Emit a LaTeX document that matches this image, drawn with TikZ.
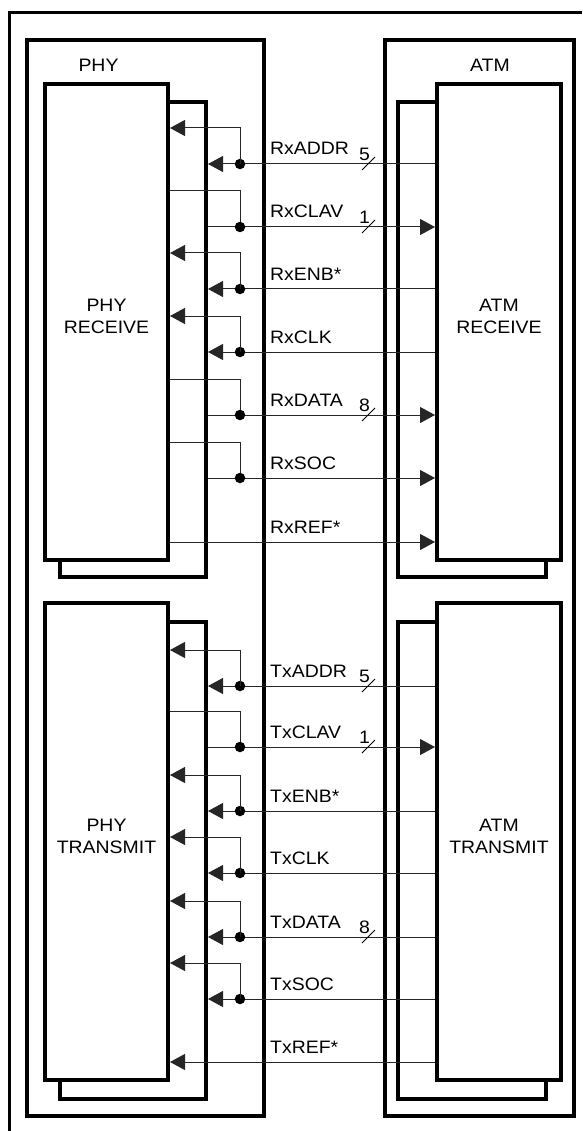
\documentclass[tikz,border=0pt]{standalone}
\usepackage{fontspec}
\setmainfont{Liberation Sans}[FakeStretch=1.08]
\usetikzlibrary{arrows.meta}
\begin{document}
\begin{tikzpicture}[x=1pt,y=-1pt,
  bx/.style={draw,line width=4pt,fill=white,inner sep=0pt,rectangle},
  sig/.style={line width=1pt,black!85},
  arr/.style={-{Triangle[length=15pt,width=16pt]}},
  lbl/.style={anchor=base west,inner sep=0pt,font=\fontsize{18}{21}\selectfont},
  ttl/.style={inner sep=0pt,font=\fontsize{18}{22}\selectfont,align=center},
  dot/.style={circle,fill=black,inner sep=0pt,minimum size=10.5pt}]
\useasboundingbox (0,0) rectangle (582,1131);
% outer frame
\draw[line width=3pt] (9,1131) -- (9,13) -- (582,13);
% PHY / ATM outer boxes
\node[bx,minimum width=237pt,minimum height=1076pt] (phy) at (145.5,578) {};
\node[bx,minimum width=189pt,minimum height=1076pt] (atm) at (479.5,578) {};
\node[ttl] (phyttl) at (98.5,65) {PHY};
\node[ttl] (atmttl) at (490,65) {ATM};
% receive boxes
\node[bx,minimum width=146pt,minimum height=475pt] (phyrxB) at (133,339.5) {};
\node[bx,minimum width=123pt,minimum height=476pt] (phyrxF) at (106.5,322) {};
\node[bx,minimum width=148pt,minimum height=475pt] (atmrxB) at (472,339.5) {};
\node[bx,minimum width=124pt,minimum height=476pt] (atmrxF) at (499,322) {};
% transmit boxes
\node[bx,minimum width=146pt,minimum height=477pt] (phytxB) at (133,860.5) {};
\node[bx,minimum width=123pt,minimum height=477pt] (phytxF) at (106.5,841.5) {};
\node[bx,minimum width=148pt,minimum height=477pt] (atmtxB) at (472,860.5) {};
\node[bx,minimum width=124pt,minimum height=477pt] (atmtxF) at (499,841.5) {};
% box titles
\node[ttl] (phyrxt) at (106.5,316) {PHY\\RECEIVE};
\node[ttl] (atmrxt) at (499,316) {ATM\\RECEIVE};
\node[ttl] (phytxt) at (106.5,836) {PHY\\TRANSMIT};
\node[ttl] (atmtxt) at (499,836) {ATM\\TRANSMIT};
% inputs to PHY (from ATM), with branch
\foreach \y/\t/\s in {164/RxADDR/rx,289/RxENB*/rx,352/RxCLK/rx,686/TxADDR/tx,811/TxENB*/tx,873/TxCLK/tx,937/TxDATA/tx,999/TxSOC/tx}{
  \coordinate (m\y) at (0,\y);
  \coordinate (u\y) at (0,\y-36);
  \draw[sig,arr] (atm\s F.west |- m\y) -- (phy\s B.east |- m\y);
  \node[dot] (d\y) at (240,\y) {};
  \draw[sig,arr] (d\y.center) |- (phy\s F.east |- u\y);
  \node[lbl] (l\y) at (270,\y-9) {\t};
}
% outputs from PHY (to ATM), with branch
\foreach \y/\t/\s in {227/RxCLAV/rx,415/RxDATA/rx,478/RxSOC/rx,747/TxCLAV/tx}{
  \coordinate (m\y) at (0,\y);
  \coordinate (u\y) at (0,\y-36);
  \draw[sig] (phy\s F.east |- u\y) -| (240,\y);
  \draw[sig,arr] (phy\s B.east |- m\y) -- (atm\s F.west |- m\y);
  \node[dot] (d\y) at (240,\y) {};
  \node[lbl] (l\y) at (270,\y-9) {\t};
}
% reference signals
\coordinate (m542) at (0,542);
\draw[sig,arr] (phyrxF.east |- m542) -- (atmrxF.west |- m542);
\node[lbl] (l542) at (270,533) {RxREF*};
\coordinate (m1062) at (0,1062);
\draw[sig,arr] (atmtxF.west |- m1062) -- (phytxF.east |- m1062);
\node[lbl] (l1062) at (270,1053) {TxREF*};
% bus widths
\foreach \y/\n in {164/5,227/1,415/8,686/5,747/1,937/8}{
  \draw[line width=0.9pt] (362,\y+6) -- (375,\y-7);
  \node[ttl] (b\y) at (364.5,\y-9.5) {\n};
}
\end{tikzpicture}
\end{document}
